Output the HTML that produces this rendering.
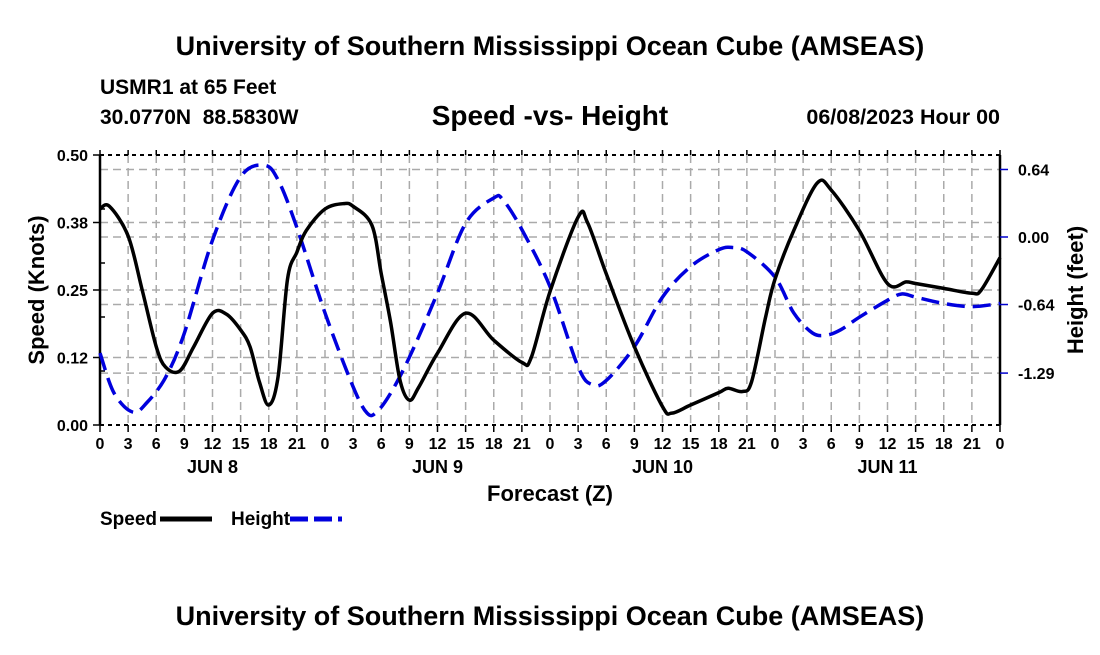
<!DOCTYPE html>
<html><head><meta charset="utf-8"><style>
body{margin:0;background:#fff;}
svg text{font-family:"Liberation Sans",sans-serif;font-weight:bold;fill:#000;white-space:pre;}
</style></head><body>
<svg width="1100" height="650" xmlns="http://www.w3.org/2000/svg">
<text x="550" y="55" font-size="27" text-anchor="middle">University of Southern Mississippi Ocean Cube (AMSEAS)</text>
<text x="100" y="94" font-size="21">USMR1 at 65 Feet</text>
<text x="100" y="124" font-size="21">30.0770N  88.5830W</text>
<text x="550" y="125" font-size="28" text-anchor="middle">Speed -vs- Height</text>
<text x="1000" y="124" font-size="21.5" text-anchor="end">06/08/2023 Hour 00</text>
<g id="grid"></g>
<g id="axes"></g>
<g id="series"></g>
<text x="44" y="290" font-size="22" text-anchor="middle" transform="rotate(-90 44 290)">Speed (Knots)</text>
<text x="1083" y="290" font-size="22" text-anchor="middle" transform="rotate(-90 1083 290)">Height (feet)</text>
<text x="550" y="501" font-size="22" text-anchor="middle">Forecast (Z)</text>
<g>
<text x="100" y="525" font-size="19">Speed</text>
<line x1="160" y1="519" x2="212" y2="519" stroke="#000" stroke-width="5"/>
<text x="231" y="525" font-size="19">Height</text>
<line x1="290" y1="519" x2="342" y2="519" stroke="#0000dd" stroke-width="5" stroke-dasharray="18 6"/>
</g>
<text x="550" y="625" font-size="27" text-anchor="middle">University of Southern Mississippi Ocean Cube (AMSEAS)</text>
</svg>
<script>
const speedHours=[0,1,3,4.5,6,7,8.5,10,12,13.5,15,16,17,18,19,20,21,22,24,26,27,29,30,31,32,33,34,36,39,42,45,46,48,51,52,54,57,60,61,63,66,67,68.5,69.5,71,72,74,76.5,78,81,84,86,87,90,93,94,96];
const speedValues=[0.40,0.405,0.35,0.25,0.145,0.107,0.10,0.145,0.207,0.205,0.176,0.145,0.08,0.037,0.09,0.27,0.32,0.36,0.40,0.41,0.405,0.37,0.28,0.19,0.083,0.046,0.07,0.133,0.207,0.157,0.116,0.125,0.247,0.385,0.375,0.28,0.145,0.034,0.022,0.037,0.06,0.068,0.062,0.08,0.2,0.27,0.36,0.448,0.435,0.36,0.262,0.265,0.262,0.253,0.244,0.25,0.31];
const heightHours=[0,1.5,3.5,5,7,9,12,15,17.5,19,21,24,27,28.5,29.5,31,33,36,39,42,43,45,48,51,52.5,54,57,60,63,66,67.5,69,72,74,76,77.5,79,81,84,85.5,87,90,93,96];
const heightValues=[-1.10,-1.48,-1.66,-1.57,-1.33,-0.91,-0.03,0.57,0.68,0.54,0.09,-0.72,-1.42,-1.67,-1.66,-1.48,-1.14,-0.53,0.13,0.37,0.35,0.07,-0.47,-1.23,-1.40,-1.36,-1.04,-0.57,-0.28,-0.12,-0.10,-0.14,-0.38,-0.72,-0.91,-0.93,-0.88,-0.76,-0.60,-0.54,-0.57,-0.63,-0.66,-0.63];
const xTickLabels=["0","3","6","9","12","15","18","21"];
const dayLabels=["JUN 8","JUN 9","JUN 10","JUN 11"];
const speedTicks=[0,0.125,0.25,0.375,0.5];
const speedTickLabels=["0.00","0.12","0.25","0.38","0.50"];
const heightTicks=[0.64,0,-0.64,-1.29];
const heightTickLabels=["0.64","0.00","-0.64","-1.29"];

const X0=100,X1=1000,YB=425,YT=155;
const xs=h=>X0+h*(X1-X0)/96;
const ys=v=>YB-v*(YB-YT)/0.5;
const yh=v=>237-v*105.5;
const NS="http://www.w3.org/2000/svg";
function mk(t,a,p){const e=document.createElementNS(NS,t);for(const k in a)e.setAttribute(k,a[k]);p.appendChild(e);return e;}
const grid=document.getElementById('grid'),axes=document.getElementById('axes'),series=document.getElementById('series');
const gs={stroke:"#aaa","stroke-width":1.5,"stroke-dasharray":"8 5"};
for(let i=1;i<32;i++){const x=xs(i*3);const l=mk('line',Object.assign({x1:x,x2:x,y1:YT,y2:YB},gs),grid);

}
speedTicks.slice(1,4).forEach(v=>{const l=mk('line',Object.assign({x1:X0,x2:X1,y1:ys(v),y2:ys(v)},gs),grid);

});
heightTicks.forEach(v=>{const l=mk('line',Object.assign({x1:X0,x2:X1,y1:yh(v),y2:yh(v)},gs),grid);

});
let a=mk('line',{x1:X0,x2:X0,y1:YT,y2:YB,stroke:"#000","stroke-width":2.5},axes);


a=mk('line',{x1:X1,x2:X1,y1:YT,y2:YB,stroke:"#000","stroke-width":2.5},axes);


a=mk('line',{x1:X0,x2:X1,y1:YT,y2:YT,stroke:"#000","stroke-width":2,"stroke-dasharray":"4 4"},axes);


a=mk('line',{x1:X0,x2:X1,y1:YB,y2:YB,stroke:"#000","stroke-width":2,"stroke-dasharray":"4 4"},axes);


for(let i=0;i<=32;i++){const x=xs(i*3);
let t=mk('line',{x1:x,x2:x,y1:YB,y2:YB+7,stroke:"#000","stroke-width":1.5},axes);


t=mk('line',{x1:x,x2:x,y1:YT,y2:YT-5,stroke:"#000","stroke-width":1.5},axes);


const lb=mk('text',{x:x,y:YB+24,"font-size":16,"text-anchor":"middle"},axes);
lb.textContent=i===32?"0":xTickLabels[i%8];

}
dayLabels.forEach((d,i)=>{const t=mk('text',{x:xs(i*24+12),y:473,"font-size":18,"text-anchor":"middle"},axes);t.textContent=d;

});
speedTicks.forEach((v,i)=>{const y=ys(v);
let t=mk('line',{x1:X0-7,x2:X0,y1:y,y2:y,stroke:"#000","stroke-width":1.5},axes);


const lb=mk('text',{x:X0-12,y:y+6,"font-size":16,"text-anchor":"end"},axes);lb.textContent=speedTickLabels[i];

});
[0.1,0.2,0.3,0.4].forEach(v=>{const t=mk('line',{x1:X0,x2:X0+5,y1:ys(v),y2:ys(v),stroke:"#000","stroke-width":1.5},axes);

});
heightTicks.forEach((v,i)=>{const y=yh(v);
let t=mk('line',{x1:X1,x2:X1+8,y1:y,y2:y,stroke:"#0000cc","stroke-width":1.5},axes);


const lb=mk('text',{x:X1+18,y:y+6,"font-size":16},axes);lb.textContent=heightTickLabels[i];

});
function spline(hs,vs,fy){const P=hs.map((h,i)=>[xs(h),fy(vs[i])]);let d="M"+P[0][0]+","+P[0][1];
for(let i=0;i<P.length-1;i++){const p0=P[Math.max(0,i-1)],p1=P[i],p2=P[i+1],p3=P[Math.min(P.length-1,i+2)];
const c1=[p1[0]+(p2[0]-p0[0])/6,p1[1]+(p2[1]-p0[1])/6],c2=[p2[0]-(p3[0]-p1[0])/6,p2[1]-(p3[1]-p1[1])/6];
d+=" C"+c1[0]+","+c1[1]+" "+c2[0]+","+c2[1]+" "+p2[0]+","+p2[1];}return d;}
let s=mk('path',{d:spline(heightHours,heightValues,yh),fill:"none",stroke:"#0000dd","stroke-width":3.5,"stroke-dasharray":"18 8"},series);


s=mk('path',{d:spline(speedHours,speedValues,ys),fill:"none",stroke:"#000","stroke-width":3.5,"stroke-linejoin":"round"},series);


</script>
</body></html>
